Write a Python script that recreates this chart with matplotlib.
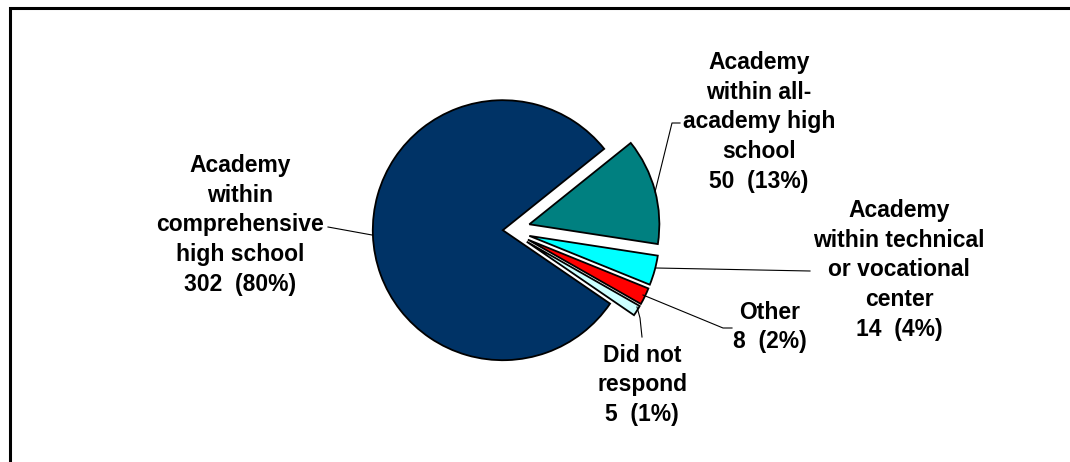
import matplotlib
matplotlib.use('Agg')
import matplotlib.pyplot as plt
from matplotlib.patches import Rectangle

names = ['Academy\nwithin\ncomprehensive\nhigh school',
         'Academy\nwithin all-\nacademy high\nschool',
         'Academy\nwithin technical\nor vocational\ncenter',
         'Other',
         'Did not\nrespond']
counts = [302, 50, 14, 8, 5]
colors = ['#003366', '#008080', '#00FFFF', '#FF0000', '#CCFFFF']
explode = [0.04, 0.17, 0.17, 0.17, 0.17]

W, H = 1070, 462
CX, CY, R = 508, 230, 130   # pie centre / radius in pixels


def px(x, y):
    # pixel position -> data coords (pie radius = 1)
    return (x - CX) / R, (CY - y) / R


plt.rcParams['font.family'] = ['Liberation Sans', 'DejaVu Sans']
fig = plt.figure(figsize=(W / 100, H / 100), dpi=100)
ax = fig.add_axes([0, 0, 1, 1])

total = sum(counts)
start = -34.4
ax.pie(counts, colors=colors, explode=explode, startangle=start,
       counterclock=False, radius=1,
       wedgeprops=dict(edgecolor='black', linewidth=1.3))
ax.set_xlim(-CX / R, (W - CX) / R)
ax.set_ylim(-(H - CY) / R, CY / R)
ax.axis('off')

# label centres (pixels)
label_pos = [(240, 225), (759, 122), (899, 270), (770, 327), (642, 385)]
for name, n, (lx, ly) in zip(names, counts, label_pos):
    pct = round(100 * n / total)
    ax.text(*px(lx, ly), f'{name}\n{n}  ({pct}%)', ha='center', va='center',
            fontsize=16.5, fontweight='bold', linespacing=1.37, color='black')

# leader lines
leaders = [
    [(328, 227), (372, 235)],
    [(655, 192), (672, 123), (680, 123)],
    [(656, 268), (810, 271)],
    [(643, 295), (723, 328), (732, 328)],
    [(637, 307), (640, 318), (642, 337)],
]
for pts in leaders:
    xs, ys = zip(*[px(x, y) for x, y in pts])
    ax.plot(xs, ys, color='black', lw=0.8)

# outer frame (cut off at right and bottom)
fig.patches.append(Rectangle((9.5 / W, -0.1), 1.2, 1 - 8.5 / H + 0.1,
                             transform=fig.transFigure, fill=False,
                             edgecolor='black', linewidth=2.2))

fig.savefig('out.png', dpi=100)
